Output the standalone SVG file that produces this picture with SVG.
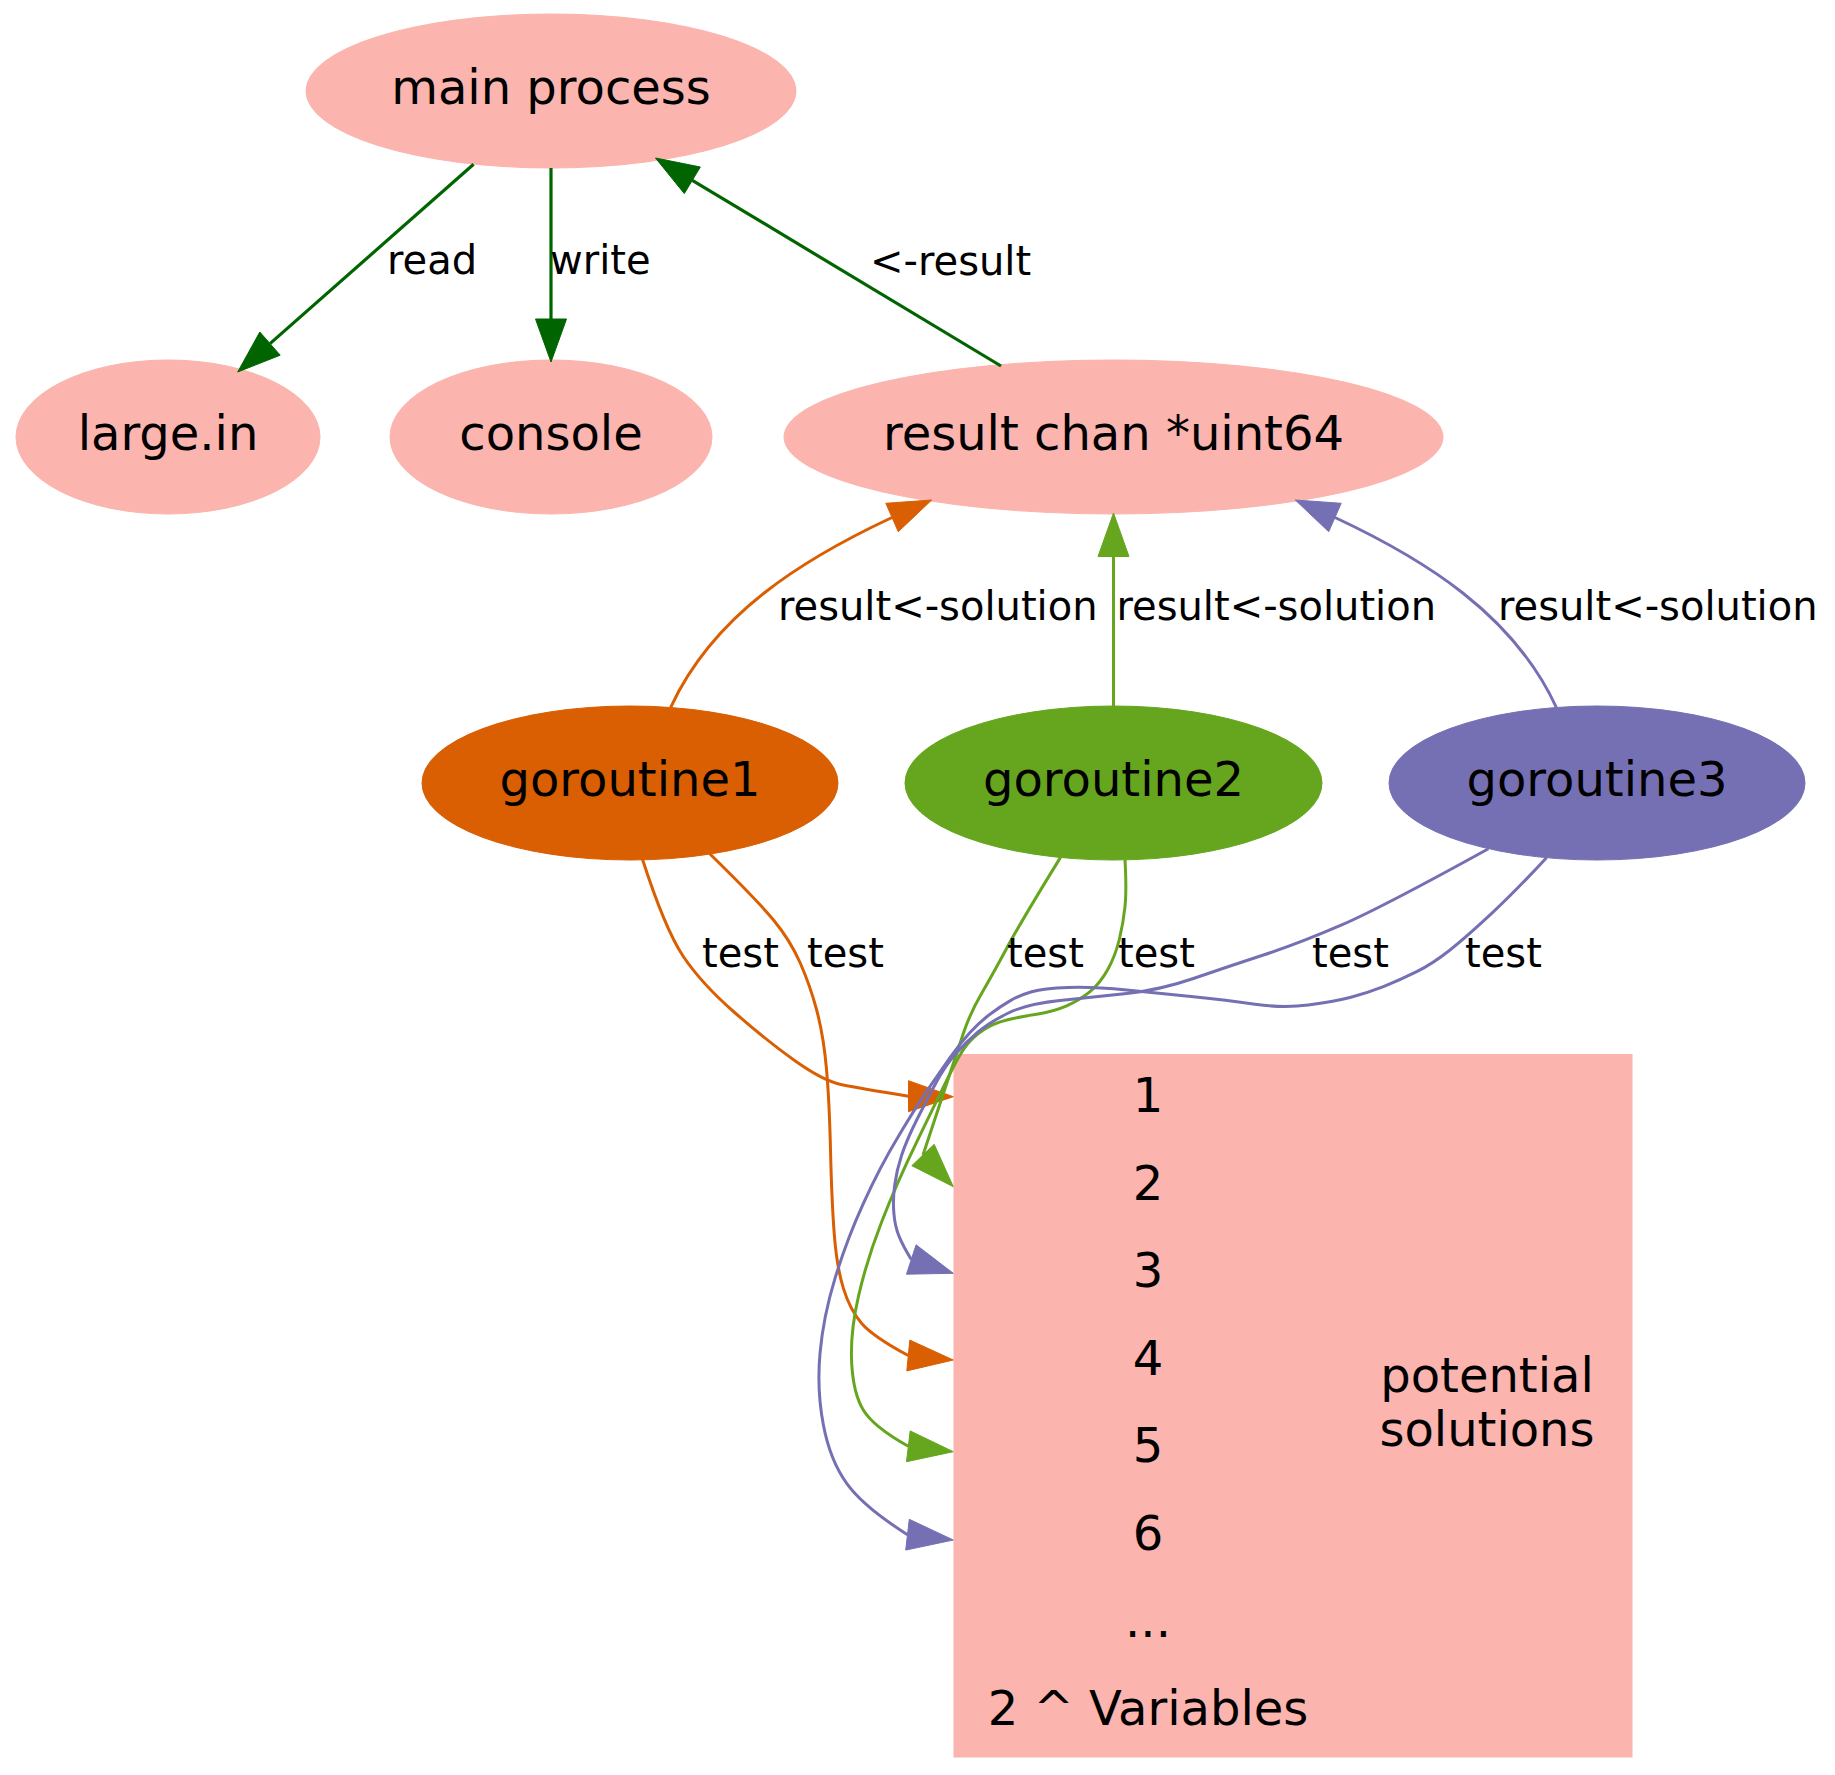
<svg xmlns="http://www.w3.org/2000/svg" width="1835" height="1775" viewBox="0 0 1835 1775">
<style>
text{font-family:"DejaVu Sans","Liberation Sans",sans-serif;fill:#000}
.nl{font-size:48px;text-anchor:middle}
.el{font-size:40px}
.pink{fill:#fbb4ae;stroke:#fbb4ae}
.e{fill:none;stroke-width:3}
.dg{stroke:#006400;stroke-width:3.2}
.or{stroke:#d95f02}
.gr{stroke:#66a61e}
.pu{stroke:#7570b3}
.adg{fill:#006400;stroke:#006400}
.aor{fill:#d95f02;stroke:#d95f02}
.agr{fill:#66a61e;stroke:#66a61e}
.apu{fill:#7570b3;stroke:#7570b3}
</style>
<rect width="1835" height="1775" fill="#fff"/>
<g id="main_process"><ellipse class="pink" cx="551" cy="91" rx="245" ry="77"/><text class="nl" x="551" y="104">main process</text></g>
<g id="large_in"><ellipse class="pink" cx="168" cy="437" rx="152" ry="77"/><text class="nl" x="168" y="450">large.in</text></g>
<g id="console"><ellipse class="pink" cx="551" cy="437" rx="161" ry="77"/><text class="nl" x="551" y="450">console</text></g>
<g id="result_chan"><ellipse class="pink" cx="1113.5" cy="437" rx="329.5" ry="77"/><text class="nl" x="1113.5" y="450">result chan *uint64</text></g>
<g id="goroutine1"><ellipse cx="630" cy="783" rx="208" ry="77" fill="#d95f02" stroke="#d95f02"/><text class="nl" x="630" y="796">goroutine1</text></g>
<g id="goroutine2"><ellipse cx="1113.5" cy="783" rx="208.5" ry="77" fill="#66a61e" stroke="#66a61e"/><text class="nl" x="1113.5" y="796">goroutine2</text></g>
<g id="goroutine3"><ellipse cx="1597" cy="783" rx="208" ry="77" fill="#7570b3" stroke="#7570b3"/><text class="nl" x="1597" y="796">goroutine3</text></g>
<g id="potential_solutions">
<rect class="pink" x="954" y="1054.5" width="678" height="702.5"/>
<text class="nl" x="1148" y="1112">1</text>
<text class="nl" x="1148" y="1199.5">2</text>
<text class="nl" x="1148" y="1287">3</text>
<text class="nl" x="1148" y="1374.5">4</text>
<text class="nl" x="1148" y="1462">5</text>
<text class="nl" x="1148" y="1549.5">6</text>
<text class="nl" x="1148" y="1637">...</text>
<text class="nl" x="1148" y="1724.5">2 ^ Variables</text>
<text class="nl" x="1487" y="1392">potential</text>
<text class="nl" x="1487" y="1446">solutions</text>
</g>
<g id="connectors">
<path class="e dg" d="M473.6,164.3 L270,343.6"/>
<polygon class="adg" points="280.2,355.2 237.7,372 259.8,332"/>
<text class="el" x="387" y="274">read</text>
<path class="e dg" d="M551,168 L551,319"/>
<polygon class="adg" points="535.5,319 551,362 566.5,319"/>
<text class="el" x="550" y="274">write</text>
<path class="e dg" d="M1001,366 L692.3,180.3"/>
<polygon class="adg" points="700.3,167 655.5,158 684.3,193.6"/>
<text class="el" x="870" y="275">&lt;-result</text>

<path class="e or" d="M670.7,707.3 C713.9,613.9 803,559.1 892,517.5"/>
<polygon class="aor" points="898.3,531.7 931.7,500 885.8,503.3"/>
<text class="el" x="778" y="620">result&lt;-solution</text>
<path class="e gr" d="M1113.5,706 L1113.5,556.5"/>
<polygon class="agr" points="1098,556.5 1113.5,513 1129,556.5"/>
<text class="el" x="1116.5" y="620">result&lt;-solution</text>
<path class="e pu" d="M1556.3,707.3 C1513.1,613.9 1424,559.1 1335,517.5"/>
<polygon class="apu" points="1328.7,531.7 1295.3,500 1341.2,503.3"/>
<text class="el" x="1498" y="620">result&lt;-solution</text>

<path class="e or" d="M642.3,858.8 Q665,929 683,956 Q701,983 734,1012 Q767,1041 795.3,1061 Q823.5,1081 841.8,1084.7 Q860,1088.3 908.5,1096.2"/>
<polygon class="aor" points="908.5,1080.7 953.3,1096.7 908.5,1111.7"/>
<text class="el" x="702" y="967">test</text>
<path class="e or" d="M710,854 Q757,900 773.5,920 Q790,940 800,962.5 Q810,985 816.8,1010.5 Q823.5,1036 826.4,1068 Q829.3,1100 830.5,1150 Q831.7,1200 834.2,1233.4 Q836.7,1266.7 843.4,1288.4 Q850,1310 861.7,1323.4 Q873.3,1336.7 908.3,1355.5"/>
<polygon class="aor" points="909.8,1340.1 953.3,1360 906.8,1370.9"/>
<text class="el" x="807" y="967">test</text>
<path class="e gr" d="M1060.5,857.4 Q1020,923.3 1006.7,948.3 Q993.3,973.3 981.7,993.3 Q970,1013.3 963.4,1033.3 Q956.7,1053.3 948.4,1078.3 Q940,1103.3 923,1155"/>
<polygon class="agr" points="934.2,1144.3 953.3,1186.7 911.8,1165.7"/>
<text class="el" x="1007" y="967">test</text>
<path class="e gr" d="M1125,859.5 Q1126.7,890 1125,906.7 Q1123.3,923.3 1119.2,940 Q1115,956.7 1107.5,970 Q1100,983.3 1090,991.7 Q1080,1000 1066.7,1005.9 Q1053.3,1011.7 1036.7,1014.2 Q1020,1016.7 1006.7,1020 Q993.3,1023.3 983.3,1030 Q973.3,1036.7 966.7,1045 Q960,1053.3 948.5,1076.7 Q937,1100 916.9,1141.7 Q896.7,1183.3 881.7,1221.7 Q866.7,1260 858.4,1296.7 Q850,1333.3 851.7,1363.3 Q853.3,1393.3 863.3,1410 Q873.3,1426.7 908.3,1446.3"/>
<polygon class="agr" points="910.2,1430.9 953.3,1451.7 906.5,1461.7"/>
<text class="el" x="1118" y="967">test</text>
<path class="e pu" d="M1488.4,848.7 Q1383.3,906.7 1341.7,924.9 Q1300,943 1263.4,955 Q1226.7,967 1193.4,978.5 Q1160,990 1126.7,993.5 Q1093.3,997 1060,1000.5 Q1026.7,1004 1008.4,1013 Q990,1022 978,1032 Q966,1042 955.5,1054 Q945,1066 935.9,1083 Q926.7,1100 916.7,1120 Q906.7,1140 901.7,1155 Q896.7,1170 894.7,1185 Q892.7,1200 893.9,1213.4 Q895,1226.7 899.2,1236.7 Q903.3,1246.7 911.3,1259.5"/>
<polygon class="apu" points="916.1,1244.8 953.3,1273.3 906.5,1274.2"/>
<text class="el" x="1312" y="967">test</text>
<path class="e pu" d="M1546.5,857.7 Q1516.7,890 1491.7,913.4 Q1466.7,936.7 1450,950 Q1433.3,963.3 1416.7,971.7 Q1400,980 1383.4,986.7 Q1366.7,993.3 1350,997.5 Q1333.3,1001.7 1308.3,1005 Q1283.3,1008.3 1255,1004.2 Q1226.7,1000 1193.4,996.7 Q1160,993.3 1126.7,990 Q1093.3,986.7 1068.3,987.5 Q1043.3,988.3 1031.7,991.7 Q1020,995 1010,1000.9 Q1000,1006.7 990,1014.2 Q980,1021.7 970,1032.5 Q960,1043.3 950,1057.7 Q940,1072 929.2,1087.7 Q918.3,1103.3 899.2,1135 Q880,1166.7 863.4,1203.4 Q846.7,1240 835,1278.4 Q823.3,1316.7 820,1353.4 Q816.7,1390 823.4,1425 Q830,1460 846.7,1483.4 Q863.3,1506.7 907.5,1534.7"/>
<polygon class="apu" points="909.3,1519.3 953.3,1540 905.7,1550.1"/>
<text class="el" x="1465" y="967">test</text>
</g>
</svg>
